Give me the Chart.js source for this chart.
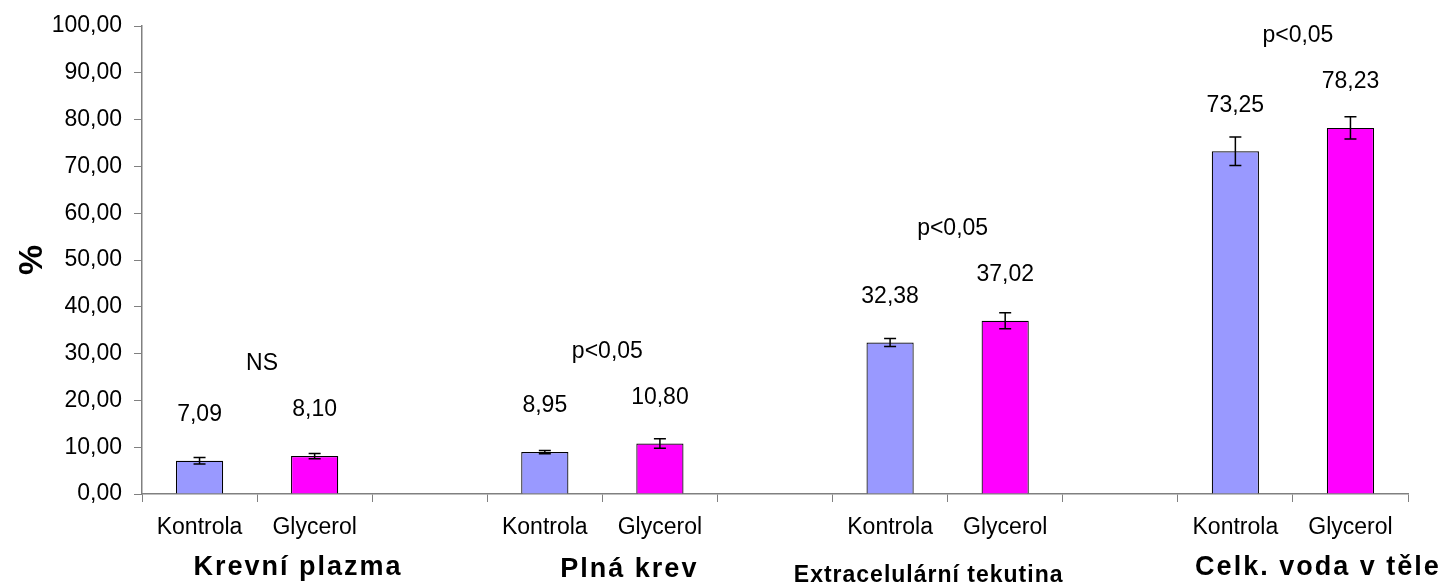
<!DOCTYPE html>
<html>
<head>
<meta charset="utf-8">
<script src="https://cdn.jsdelivr.net/npm/chart.js@4"></script>
<style>
  html, body { margin: 0; padding: 0; background: #fff; }
  #wrap { width: 1449px; height: 587px; }
</style>
</head>
<body>
<div id="wrap"><canvas id="chart"></canvas></div>
<script>
const groups = ['Krevní plazma', 'Plná krev', 'Extracelulární tekutina', 'Celk. voda v těle'];
const pairLabels = ['Kontrola', 'Glycerol'];
const kontrola = [7.09, 8.95, 32.38, 73.25];
const glycerol = [8.10, 10.80, 37.02, 78.23];
const kontrolaErr = [0.7, 0.35, 0.85, 3.05];
const glycerolErr = [0.55, 1.0, 1.7, 2.4];
const significance = ['NS', 'p<0,05', 'p<0,05', 'p<0,05'];

const FONT = '"Liberation Sans", Arial, sans-serif';
const fmt = v => v.toFixed(2).replace('.', ',');

// 11 slots: Kontrola, Glycerol, gap, ...
const labels = [], values = [], errors = [], colors = [];
groups.forEach((g, i) => {
    if (i > 0) {
        labels.push(''); values.push(null); errors.push(null); colors.push('rgba(0,0,0,0)');
    }
    labels.push(pairLabels[0]); values.push(kontrola[i]); errors.push(kontrolaErr[i]); colors.push('#9999ff');
    labels.push(pairLabels[1]); values.push(glycerol[i]); errors.push(glycerolErr[i]); colors.push('#ff00ff');
});

// the group captions were text boxes in the original, each styled a bit differently
const captionStyle = [
    { size: 27, spacing: 2, dx: 41, dy: 81 },
    { size: 27, spacing: 2, dx: 27, dy: 83 },
    { size: 23, spacing: 1, dx: -19, dy: 88 },
    { size: 27, spacing: 2, dx: 25, dy: 81 }
];

const annotate = {
    id: 'annotate',
    afterDatasetsDraw(chart) {
        const ctx = chart.ctx;
        const y = chart.scales.y;
        const bars = chart.getDatasetMeta(0).data;
        ctx.save();

        // error bars
        ctx.strokeStyle = '#000';
        ctx.lineWidth = 1.5;
        values.forEach((v, i) => {
            if (v == null) return;
            const cx = bars[i].x;
            const top = y.getPixelForValue(v + errors[i]);
            const bot = y.getPixelForValue(v - errors[i]);
            ctx.beginPath();
            ctx.moveTo(cx, top); ctx.lineTo(cx, bot);
            ctx.moveTo(cx - 6, top); ctx.lineTo(cx + 6, top);
            ctx.moveTo(cx - 6, bot); ctx.lineTo(cx + 6, bot);
            ctx.stroke();
        });

        // value labels
        ctx.fillStyle = '#000';
        ctx.textAlign = 'center';
        ctx.textBaseline = 'middle';
        ctx.font = '23px ' + FONT;
        values.forEach((v, i) => {
            if (v == null) return;
            ctx.fillText(fmt(v), bars[i].x, bars[i].y - 46);
        });

        // significance + group names
        groups.forEach((g, i) => {
            const a = bars[i * 3], b = bars[i * 3 + 1];
            const mid = (a.x + b.x) / 2;
            ctx.textBaseline = 'middle';
            ctx.font = '23px ' + FONT;
            ctx.fillText(significance[i], mid + 5, Math.min(a.y, b.y) - 92);

            const st = captionStyle[i];
            ctx.textBaseline = 'alphabetic';
            ctx.font = 'bold ' + st.size + 'px ' + FONT;
            ctx.letterSpacing = st.spacing + 'px';
            ctx.fillText(g, mid + st.dx, chart.chartArea.bottom + st.dy);
            ctx.letterSpacing = '0px';
        });
        ctx.restore();
    }
};

new Chart(document.getElementById('chart'), {
    type: 'bar',
    data: {
        labels: labels,
        datasets: [{
            data: values,
            backgroundColor: colors,
            borderColor: '#000',
            borderWidth: 1.2,
            categoryPercentage: 1,
            barPercentage: 0.41
        }]
    },
    options: {
        responsive: true,
        maintainAspectRatio: false,
        animation: false,
        layout: { padding: { top: 26, right: 41, left: 0, bottom: 0 } },
        plugins: {
            legend: { display: false },
            tooltip: { enabled: false }
        },
        scales: {
            x: {
                afterFit: s => { s.height = 93; },
                grid: { offset: true, drawOnChartArea: false, tickLength: 8, color: '#808080' },
                border: { color: '#808080', width: 1.5 },
                ticks: {
                    autoSkip: false, maxRotation: 0, color: '#000', padding: 12,
                    font: { family: FONT, size: 23 }
                }
            },
            y: {
                min: 0,
                max: 100,
                afterFit: s => { s.width = 142; },
                grid: { drawOnChartArea: false, tickLength: 8, color: '#808080' },
                border: { color: '#808080', width: 1.5 },
                title: {
                    display: true, text: '%', color: '#000',
                    font: { family: FONT, size: 34, weight: 'bold' },
                    padding: { top: 12 }
                },
                ticks: {
                    stepSize: 10, color: '#000', padding: 12,
                    font: { family: FONT, size: 23 },
                    callback: v => fmt(v)
                }
            }
        }
    },
    plugins: [annotate]
});
</script>
</body>
</html>
